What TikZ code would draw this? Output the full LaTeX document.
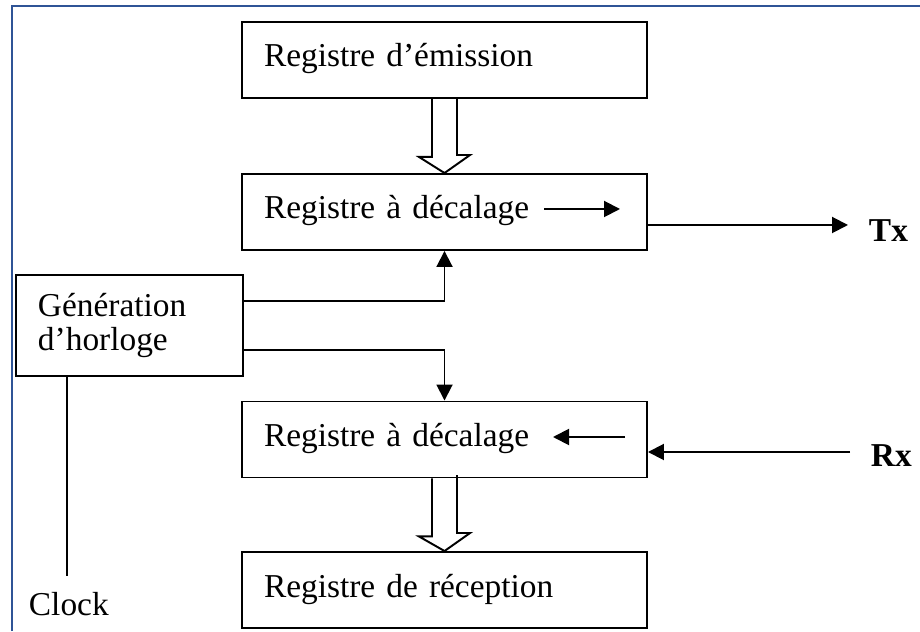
\documentclass[tikz,border=0pt]{standalone}
\usepackage{fontspec}
\setmainfont{Liberation Serif}
\usetikzlibrary{arrows.meta,calc}
\definecolor{frameblue}{RGB}{47,84,150}

\begin{document}
\begin{tikzpicture}[line width=1.1pt, every node/.style={font=\fontsize{19}{19.4}\selectfont},
  reg/.style={draw, text width=7.22cm, align=left, inner xsep=0.44cm, minimum height=1.52cm, text height=0.52cm, text depth=0.24cm},
  lab/.style={anchor=base west, inner sep=0pt},
  sig/.style={-{Triangle[length=0.32cm,width=0.32cm]}}]
\useasboundingbox (0,0) rectangle (18.4,12.62);
% frame (top and left edges only)
\draw[frameblue, line width=1.2pt] (0.235,0) -- (0.235,12.5) -- (18.4,12.5);

% registers
\node[reg] (emi) at (8.89,11.42) {Registre d'émission};
\node[reg] (sr1) at (8.89,8.38) {Registre à décalage};
\node[reg] (sr2) at (8.89,3.83) {Registre à décalage};
\node[reg] (rec) at (8.89,0.82) {Registre de réception};
\node[draw, text width=3.66cm, align=left, inner xsep=0.44cm, minimum height=2.02cm] (gen) at (2.59,6.11) {Génération\\d'horloge};

% labels
\node[lab, font=\fontsize{19}{19.4}\selectfont\bfseries] (tx) at (17.36,7.78) {Tx};
\node[lab, font=\fontsize{19}{19.4}\selectfont\bfseries] (rx) at (17.4,3.28) {Rx};
\node[lab] (clock) at (0.56,0.32) {Clock};
\coordinate (txend) at (16.96,8.12);
\coordinate (rxend) at (17.0,3.58);
\coordinate (clk) at (1.34,1.10);

% parallel transfers
\draw ($(emi.south)+(-0.25,0)$) -- ++(0,-1.16) -- ++(-0.26,0) -- (sr1.north) -- ++(0.51,0.36) -- ++(-0.26,0) -- ++(0,1.16);
\draw ($(sr2.south)+(-0.25,0)$) -- ++(0,-1.16) -- ++(-0.26,0) -- (rec.north) -- ++(0.51,0.36) -- ++(-0.26,0) -- ++(0,1.16);

% shift direction
\draw[sig] (10.88,8.44) -- (12.4,8.44);
\draw[sig] (12.5,3.88) -- (11.06,3.88);

% serial lines and clock
\draw[sig] (sr1.east |- txend) -- (txend);
\draw[sig] (rxend) -- (sr2.east |- rxend);
\draw[sig] ($(gen.east)+(0,0.49)$) -| (sr1.south);
\draw[sig] ($(gen.east)+(0,-0.49)$) -| (sr2.north);
\draw (gen.south -| clk) -- (clk);
\end{tikzpicture}
\end{document}
